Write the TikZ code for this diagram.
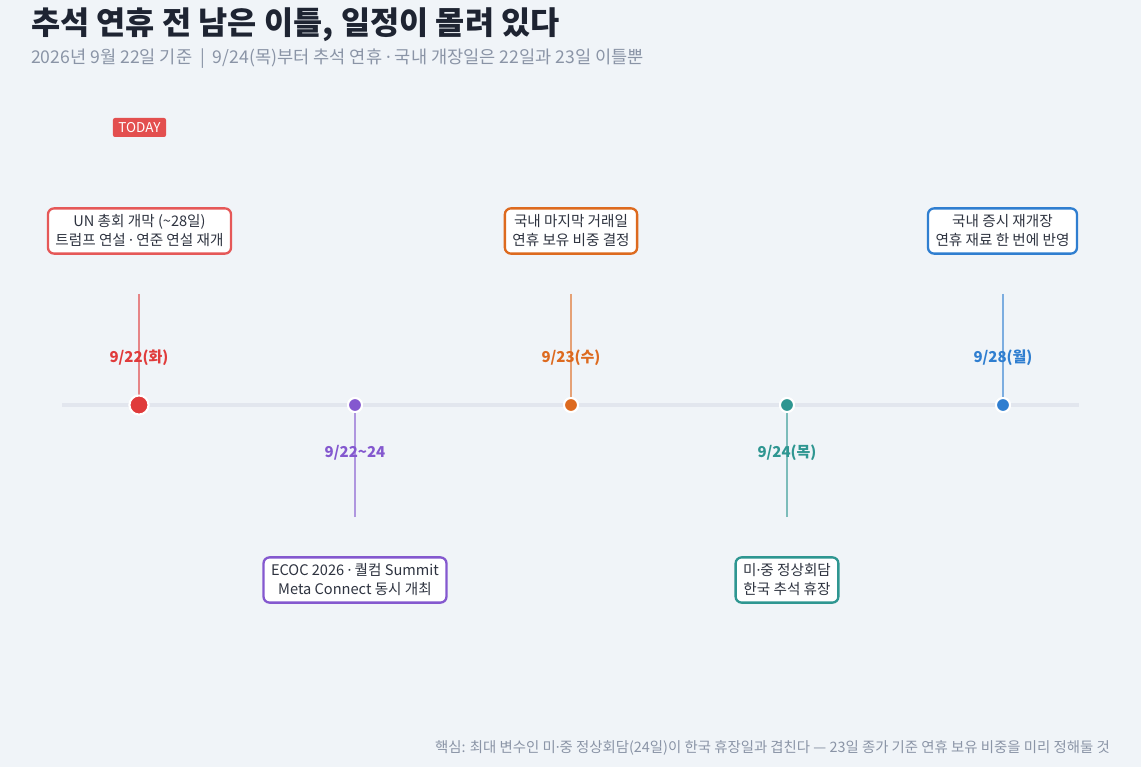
\documentclass[tikz,border=0pt]{standalone}
\usepackage{fontspec}
\setmainfont{Noto Sans CJK KR}
\newfontfamily\latdot{Noto Sans}
\newcommand\md{{\latdot ·}}
\definecolor{bg}{HTML}{F0F4F8}
\definecolor{titlec}{HTML}{1E2432}
\definecolor{subc}{HTML}{8A94A6}
\definecolor{axisc}{HTML}{E2E6EE}
\definecolor{cred}{HTML}{E03B3B}
\definecolor{cora}{HTML}{DD6A1F}
\definecolor{cpur}{HTML}{8458CF}
\definecolor{ctea}{HTML}{2E9691}
\definecolor{cblu}{HTML}{2F7ED0}
\definecolor{textc}{HTML}{2E3340}
\tikzset{
  x=1pt,y=-1pt,
  evbox/.style={draw=#1,line width=2.3pt,fill=white,rounded corners=6pt,align=center,
    font=\fontsize{14.6}{19}\selectfont,text=textc,inner xsep=7.5pt,inner ysep=6.5pt},
  datelab/.style={text=#1,font=\fontsize{15}{17}\selectfont\bfseries},
  stem/.style={draw=#1!60!bg,line width=1.5pt},
  dot/.style={circle,fill=#1,draw=white,line width=2pt,minimum size=14pt,inner sep=0pt},
}
\begin{document}
\begin{tikzpicture}
\fill[bg] (0,0) rectangle (1141,767);
\useasboundingbox (0,0) rectangle (1141,767);
% title
\node[anchor=west,text=titlec,font=\fontsize{31.7}{34}\selectfont\bfseries,inner sep=0pt] (title) at (31,25) {추석 연휴 전 남은 이틀, 일정이 몰려 있다};
\node[anchor=west,text=subc,font=\fontsize{17.6}{20}\selectfont,inner sep=0pt] (sub) at (31,59) {2026년 9월 22일 기준 \ | \ 9/24(목)부터 추석 연휴 \md{} 국내 개장일은 22일과 23일 이틀뿐};
% axis
\coordinate (axL) at (62,405);
\coordinate (axR) at (1079,405);
\draw[axisc,line width=4pt] (axL) -- (axR);
% today badge
\node[fill=cred!90!white,text=white,rounded corners=2pt,font=\fontsize{13.5}{15}\selectfont,inner xsep=5.5pt,inner ysep=2pt,minimum height=19pt] (today) at (139.5,127.5) {TODAY};
% stems tops/bottoms
\coordinate (s1) at (139,294);
\coordinate (s2) at (355,517);
\coordinate (s3) at (571,294);
\coordinate (s4) at (787,517);
\coordinate (s5) at (1003,294);
% dots
\node[dot=cred,minimum size=19pt] (d1) at (139,405) {};
\node[dot=cpur] (d2) at (355,405) {};
\node[dot=cora] (d3) at (571,405) {};
\node[dot=ctea] (d4) at (787,405) {};
\node[dot=cblu] (d5) at (1003,405) {};
\draw[stem=cred] (s1) -- (d1.center);
\draw[stem=cpur] (s2) -- (d2.center);
\draw[stem=cora] (s3) -- (d3.center);
\draw[stem=ctea] (s4) -- (d4.center);
\draw[stem=cblu] (s5) -- (d5.center);
\node[dot=cred,minimum size=19pt] at (d1) {};
\node[dot=cpur] at (d2) {};
\node[dot=cora] at (d3) {};
\node[dot=ctea] at (d4) {};
\node[dot=cblu] at (d5) {};
% date labels
\node[datelab=cred] (l1) at (139,358) {9/22(화)};
\node[datelab=cpur] (l2) at (355,453) {9/22\textasciitilde24};
\node[datelab=cora] (l3) at (571,358) {9/23(수)};
\node[datelab=ctea] (l4) at (787,453) {9/24(목)};
\node[datelab=cblu] (l5) at (1003,358) {9/28(월)};
% boxes
\node[evbox=cred!85!white] (b1) at (139.5,231) {UN 총회 개막 (\textasciitilde28일)\\트럼프 연설 \md{} 연준 연설 재개};
\node[evbox=cpur] (b2) at (355,580) {ECOC 2026 \md{} 퀄컴 Summit\\Meta Connect 동시 개최};
\node[evbox=cora] (b3) at (571,231) {국내 마지막 거래일\\연휴 보유 비중 결정};
\node[evbox=ctea] (b4) at (787,580) {미\md{}중 정상회담\\한국 추석 휴장};
\node[evbox=cblu] (b5) at (1002.5,231) {국내 증시 재개장\\연휴 재료 한 번에 반영};
% footer
\node[anchor=east,text=subc,font=\fontsize{14.4}{16}\selectfont,inner sep=0pt] (foot) at (1110,748) {핵심: 최대 변수인 미\md{}중 정상회담(24일)이 한국 휴장일과 겹친다 — 23일 종가 기준 연휴 보유 비중을 미리 정해둘 것};
\end{tikzpicture}
\end{document}
